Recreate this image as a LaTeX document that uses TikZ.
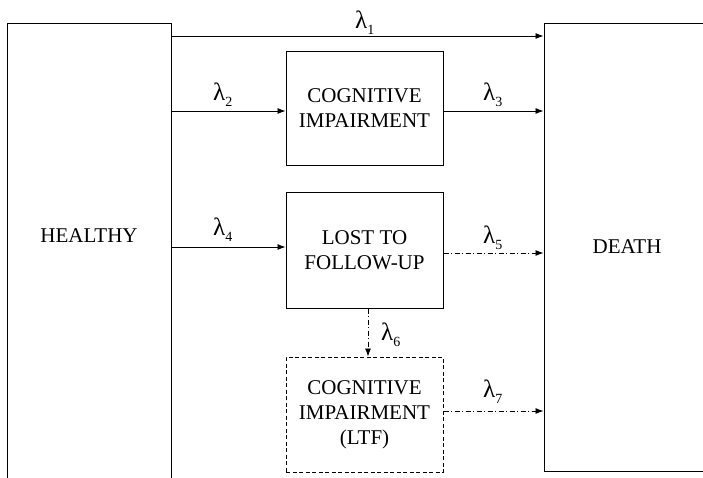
\documentclass[tikz,border=0pt]{standalone}
\usepackage{fontspec}
\setmainfont{Liberation Serif}
\usetikzlibrary{arrows.meta}
\newcommand{\lamsub}[1]{λ\raisebox{-0.25em}{\fontsize{14}{14}\selectfont #1}}
\begin{document}
\begin{tikzpicture}[x=1pt,y=-1pt,
  box/.style={draw, line width=1pt, inner sep=0pt, align=center,
    font=\fontsize{21}{25}\selectfont},
  txt/.style={inner sep=0pt, font=\fontsize{21}{25}\selectfont},
  lam/.style={inner sep=0pt, anchor=base west, font=\fontsize{25}{25}\selectfont},
  arr/.style={-{Latex[length=8pt,width=6pt]}, line width=0.8pt},
  dashdot/.style={dash pattern=on 5pt off 2.5pt on 1pt off 2.5pt}]
\useasboundingbox (0,0) rectangle (703,477);
\clip (0,0) rectangle (703,477);
% boxes
\node[box, minimum width=164pt, minimum height=477pt] (healthy) at (89,261.5) {};
\node[txt] (healthyt) at (89,236) {HEALTHY};
\node[box, minimum width=166pt, minimum height=448pt] (death) at (627,247) {DEATH};
\node[box, minimum width=157pt, minimum height=114pt] (cog) at (364.5,108) {COGNITIVE\\IMPAIRMENT};
\node[box, minimum width=157pt, minimum height=116pt] (ltfu) at (364.5,250) {LOST TO\\FOLLOW-UP};
\node[box, dashed, dash pattern=on 4pt off 2.5pt, minimum width=157pt, minimum height=115pt] (cogltf) at (364.5,414.5) {COGNITIVE\\IMPAIRMENT\\(LTF)};
% helper coordinates
\coordinate (y1) at (0,36);
\coordinate (y2) at (0,111);
\coordinate (y4) at (0,247);
\coordinate (y5) at (0,253);
\coordinate (y7) at (0,411);
\coordinate (x6) at (368,0);
% connectors
\draw[arr] (healthy.east |- y1) -- (death.west |- y1);
\draw[arr] (healthy.east |- y2) -- (cog.west |- y2);
\draw[arr] (cog.east |- y2) -- (death.west |- y2);
\draw[arr] (healthy.east |- y4) -- (ltfu.west |- y4);
\draw[arr, dashdot] (ltfu.east |- y5) -- (death.west |- y5);
\draw[arr, dashdot] (x6 |- ltfu.south) -- (x6 |- cogltf.north);
\draw[arr, dashdot] (cogltf.east |- y7) -- (death.west |- y7);
% labels
\node[lam] (l1) at (355,28) {\lamsub{1}};
\node[lam] (l2) at (213,100) {\lamsub{2}};
\node[lam] (l3) at (483,100) {\lamsub{3}};
\node[lam] (l4) at (213,235) {\lamsub{4}};
\node[lam] (l5) at (483,243) {\lamsub{5}};
\node[lam] (l6) at (381,340) {\lamsub{6}};
\node[lam] (l7) at (483,397) {\lamsub{7}};
\end{tikzpicture}
\end{document}
